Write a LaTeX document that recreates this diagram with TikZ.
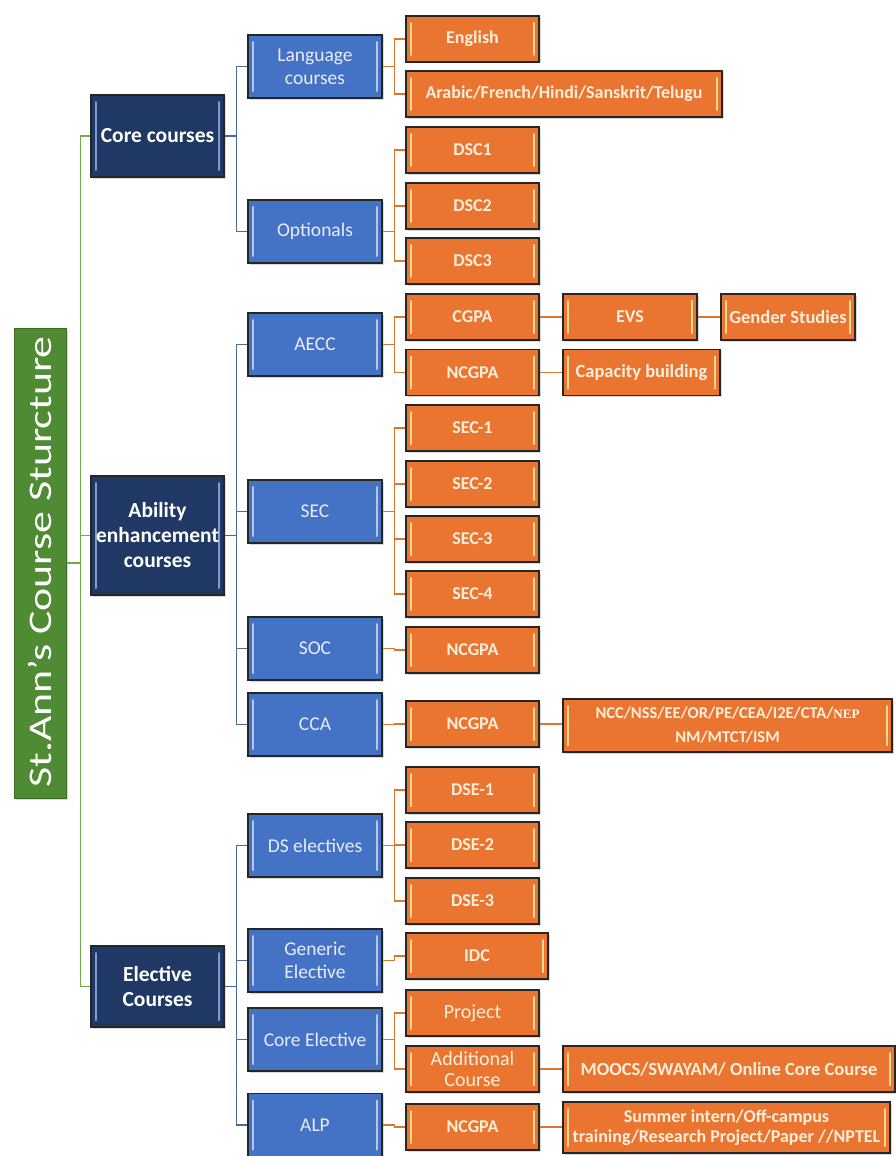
\documentclass[tikz,border=0pt]{standalone}
\usepackage{fontspec}
\usepackage{graphicx}
\setmainfont{Carlito}
\newfontfamily\nepfont{Liberation Serif}
\usetikzlibrary{shadows}
\definecolor{rootg}{HTML}{4E8B32}
\definecolor{rootline}{HTML}{3A6B25}
\definecolor{navy}{HTML}{1F3864}
\definecolor{midblue}{HTML}{4472C4}
\definecolor{orng}{HTML}{EA7530}
\definecolor{boxline}{HTML}{262626}
\definecolor{gconn}{HTML}{70AD47}
\definecolor{bconn}{HTML}{4A6A9E}
\definecolor{oconn}{HTML}{D9772E}
\definecolor{hlnavy}{HTML}{7F9BCF}
\definecolor{hlblue}{HTML}{B4C7E7}
\definecolor{hlorng}{HTML}{FFD891}
\definecolor{cream}{HTML}{FDEEDC}
\tikzset{
  bevel/.style={path picture={
    \draw[#1, line width=2pt, line cap=round]
      ([xshift=5pt,yshift=-7pt]path picture bounding box.north west) --
      ([xshift=5pt,yshift=7pt]path picture bounding box.south west);
    \draw[#1, line width=2pt, line cap=round]
      ([xshift=-5pt,yshift=-7pt]path picture bounding box.north east) --
      ([xshift=-5pt,yshift=7pt]path picture bounding box.south east);}},
  box/.style={draw=boxline, line width=1.4pt, inner sep=2pt, align=center,
    text=white, drop shadow={shadow xshift=1.5pt, shadow yshift=-1.5pt, opacity=0.3}},
  lone/.style={box, fill=navy, bevel=hlnavy, minimum width=133pt,
    font=\fontsize{21.5}{25}\selectfont\bfseries},
  ltwo/.style={box, fill=midblue, bevel=hlblue, minimum width=134pt, minimum height=63pt,
    text=white!92!blue, font=\fontsize{19.5}{23}\selectfont},
  lthree/.style={box, fill=orng, bevel=hlorng, minimum width=133pt, minimum height=46pt,
    text=cream, font=\fontsize{18}{22}\selectfont\bfseries},
  gline/.style={draw=gconn, line width=1.2pt},
  bline/.style={draw=bconn, line width=1.2pt},
  oline/.style={draw=oconn, line width=1.3pt},
}
\begin{document}
\begin{tikzpicture}[x=1pt,y=-1pt]
\useasboundingbox (0,0) rectangle (896,1156);
% root
\node[draw=rootline, line width=1pt, fill=rootg, minimum width=52pt, minimum height=470pt,
  drop shadow={shadow xshift=1.5pt, shadow yshift=-1.5pt, opacity=0.3}] (root) at (40,563) {};
\node[rotate=90, text=white, font=\fontsize{33}{36}\selectfont] (roottxt) at (40,562) {\scalebox{1.33}[1]{St.Ann's Course Sturcture}};
% level 1
\node[lone, minimum height=82pt] (core) at (157.5,136) {Core courses};
\node[lone, minimum height=119pt] (abil) at (157.5,535.5) {Ability\\enhancement\\courses};
\node[lone, minimum height=81pt] (elec) at (157.5,986.5) {Elective\\Courses};
% level 2
\node[ltwo] (lang) at (315,66.5) {Language\\courses};
\node[ltwo] (opt) at (315,231.5) {Optionals};
\node[ltwo] (aecc) at (315,344.5) {AECC};
\node[ltwo] (sec) at (315,511.5) {SEC};
\node[ltwo] (soc) at (315,648.5) {SOC};
\node[ltwo] (cca) at (315,724.5) {CCA};
\node[ltwo] (dse) at (315,845.5) {DS electives};
\node[ltwo] (gen) at (315,960.5) {Generic\\Elective};
\node[ltwo] (cel) at (315,1039.5) {Core Elective};
\node[ltwo] (alp) at (315,1125) {ALP};
% level 3
\node[lthree] (eng) at (472.5,39) {English};
\node[lthree, minimum width=316pt] (arab) at (564,94) {Arabic/French/Hindi/Sanskrit/Telugu};
\node[lthree] (dsc1) at (472.5,150) {DSC1};
\node[lthree] (dsc2) at (472.5,206) {DSC2};
\node[lthree] (dsc3) at (472.5,261) {DSC3};
\node[lthree] (cgpa) at (472.5,317) {CGPA};
\node[lthree] (ncgpa) at (472.5,372.5) {NCGPA};
\node[lthree] (sec1) at (472.5,428) {SEC-1};
\node[lthree] (sec2) at (472.5,484) {SEC-2};
\node[lthree] (sec3) at (472.5,539) {SEC-3};
\node[lthree] (sec4) at (472.5,594) {SEC-4};
\node[lthree] (socn) at (472.5,650) {NCGPA};
\node[lthree] (ccan) at (472.5,724) {NCGPA};
\node[lthree] (dse1) at (472.5,790) {DSE-1};
\node[lthree] (dse2) at (472.5,845) {DSE-2};
\node[lthree] (dse3) at (472.5,901) {DSE-3};
\node[lthree, minimum width=142pt] (idc) at (477,956) {IDC};
\node[lthree, font=\fontsize{20}{23}\selectfont] (proj) at (472.5,1013) {Project};
\node[lthree, font=\fontsize{20}{21}\selectfont] (addl) at (472.5,1069) {Additional\\Course};
\node[lthree] (alpn) at (472.5,1127) {NCGPA};
% level 4
\node[lthree, minimum width=134pt] (evs) at (630,317) {EVS};
\node[lthree, minimum width=134pt, font=\fontsize{18.5}{22}\selectfont\bfseries] (gend) at (788,317) {Gender Studies};
\node[lthree, minimum width=157pt, font=\fontsize{18.5}{22}\selectfont\bfseries] (capb) at (641.5,372.5) {Capacity building};
\node[lthree, minimum width=329pt, minimum height=53pt, font=\fontsize{16.5}{24}\selectfont\bfseries] (nccb) at (727.5,725.5)
  {NCC/NSS/EE/OR/PE/CEA/I2E/CTA/{\nepfont\fontsize{13}{14}\selectfont\color{white}NEP}\\NM/MTCT/ISM};
\node[lthree, minimum width=332pt, font=\fontsize{18.5}{22}\selectfont\bfseries] (mooc) at (729,1069) {MOOCS/SWAYAM/ Online Core Course};
\node[lthree, minimum width=327pt, minimum height=51pt, font=\fontsize{18}{20}\selectfont\bfseries] (summ) at (726.5,1127.5)
  {Summer intern/Off-campus\\training/Research Project/Paper //NPTEL};
% connectors root -> level 1
\draw[gline] (root.east) -- ++(14pt,0) |- (core.west);
\draw[gline] (root.east) -- ++(14pt,0) |- (abil.west);
\draw[gline] (root.east) -- ++(14pt,0) |- (elec.west);
% level1 -> level2
\foreach \a/\b in {core/lang,core/opt,abil/aecc,abil/sec,abil/soc,abil/cca,elec/dse,elec/gen,elec/cel,elec/alp}
  \draw[bline] (\a.east) -- ++(12pt,0) |- (\b.west);
% level2 -> level3
\foreach \a/\b in {lang/eng,lang/arab,opt/dsc1,opt/dsc2,opt/dsc3,aecc/cgpa,aecc/ncgpa,sec/sec1,sec/sec2,sec/sec3,sec/sec4,soc/socn,cca/ccan,dse/dse1,dse/dse2,dse/dse3,gen/idc,cel/proj,cel/addl,alp/alpn}
  \draw[oline] (\a.east) -- ++(12pt,0) |- (\b.west);
% level3 -> level4
\draw[oline] (cgpa.east) -- (evs.west);
\draw[oline] (evs.east) -- (gend.west);
\draw[oline] (ncgpa.east) -- (capb.west);
\draw[oline] (ccan.east) -- (ccan.east -| nccb.west);
\draw[oline] (addl.east) -- (mooc.west);
\draw[oline] (alpn.east) -- (alpn.east -| summ.west);
\end{tikzpicture}
\end{document}
